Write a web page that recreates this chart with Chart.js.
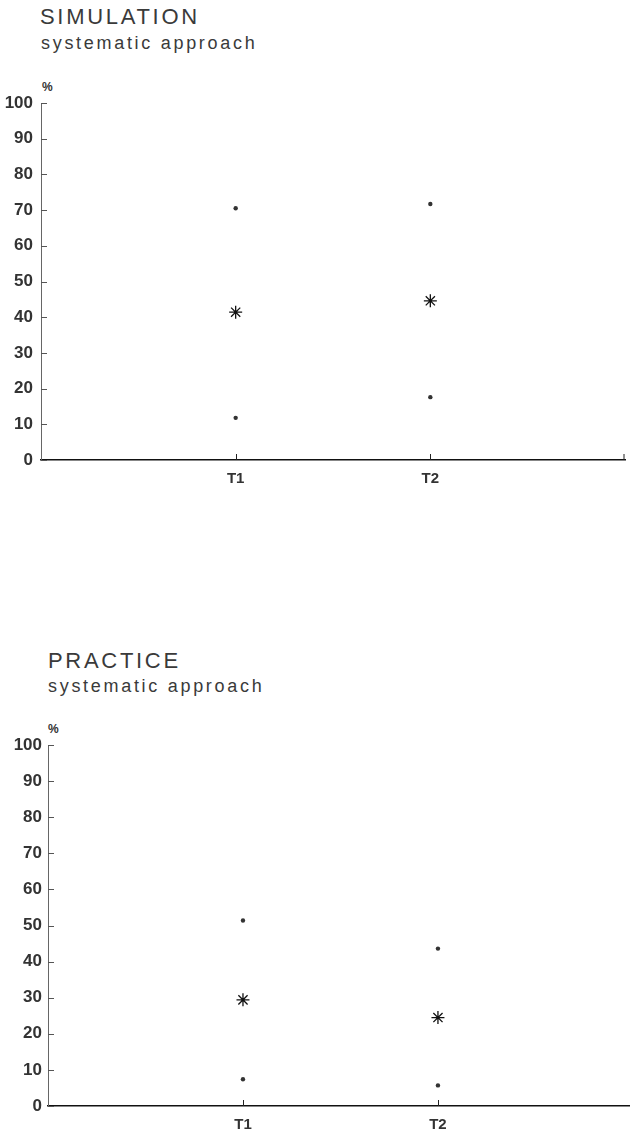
<!DOCTYPE html>
<html>
<head>
<meta charset="utf-8">
<script src="https://cdn.jsdelivr.net/npm/chart.js@4.4.1/dist/chart.umd.min.js"></script>
<style>
    body { margin: 0; background: #fff; }
    #page { position: relative; width: 630px; height: 1135px; overflow: hidden; font-family: "Liberation Sans", Arial, sans-serif; color: #3a3a3a; }
    .title { position: absolute; font-size: 22px; line-height: 1; letter-spacing: 2.7px; white-space: nowrap; }
    .sub { position: absolute; font-size: 18px; line-height: 1; letter-spacing: 2.7px; white-space: nowrap; }
    .pct { position: absolute; font-size: 12px; font-weight: bold; line-height: 1; color: #333; }
    .box { position: absolute; left: 0; width: 630px; }
</style>
</head>
<body>
<div id="page">
    <div class="title" style="left:40px; top:6px;">SIMULATION</div>
    <div class="sub" style="left:41px; top:34px;">systematic approach</div>
    <div class="pct" style="left:42px; top:81px;">%</div>
    <div class="box" style="top:0; height:500px;"><canvas id="simChart"></canvas></div>

    <div class="title" style="left:48px; top:650px;">PRACTICE</div>
    <div class="sub" style="left:48px; top:677px;">systematic approach</div>
    <div class="pct" style="left:48px; top:723px;">%</div>
    <div class="box" style="top:640px; height:495px;"><canvas id="pracChart"></canvas></div>
</div>

<script>
// categories on the x axis
const categories = ['T1', 'T2'];
const yTicks = [0, 10, 20, 30, 40, 50, 60, 70, 80, 90, 100];

// SIMULATION, systematic approach (%)
const simUpper = [70.5, 71.7];
const simMean  = [41.4, 44.6];
const simLower = [11.8, 17.6];

// PRACTICE, systematic approach (%)
const pracUpper = [51.4, 43.6];
const pracMean  = [29.4, 24.5];
const pracLower = [7.4, 5.7];

function toPoints(vals) {
    return categories.map((c, i) => ({ x: i + 1, y: vals[i] }));
}

// tick marks pointing into the plot, like the original
const innerTicks = {
    id: 'innerTicks',
    afterDraw(chart) {
        const ctx = chart.ctx;
        const area = chart.chartArea;
        const ys = chart.scales.y;
        const xs = chart.scales.x;
        ctx.save();
        ctx.strokeStyle = '#555';
        ctx.lineWidth = 1;
        ctx.beginPath();
        ys.ticks.forEach(t => {
            const py = Math.round(ys.getPixelForValue(t.value)) + 0.5;
            ctx.moveTo(area.left, py);
            ctx.lineTo(area.left + 6, py);
        });
        ctx.stroke();
        ctx.strokeStyle = '#222';
        ctx.beginPath();
        xs.ticks.forEach(t => {
            const px = Math.min(Math.round(xs.getPixelForValue(t.value)) + 0.5, area.right - 1);
            ctx.moveTo(px, area.bottom);
            ctx.lineTo(px, area.bottom - 6);
        });
        ctx.stroke();
        ctx.restore();
    }
};

function makeChart(id, upper, mean, lower, opts) {
    const dot = {
        pointRadius: 2.2,
        pointBackgroundColor: '#333',
        pointBorderWidth: 0,
        showLine: false
    };
    return new Chart(document.getElementById(id), {
        type: 'scatter',
        data: {
            datasets: [
                Object.assign({ label: 'upper', data: toPoints(upper) }, dot),
                {
                    label: 'mean',
                    data: toPoints(mean),
                    pointStyle: 'star',
                    pointRadius: 6.5,
                    pointBorderColor: '#111',
                    pointBorderWidth: 1.3,
                    showLine: false
                },
                Object.assign({ label: 'lower', data: toPoints(lower) }, dot)
            ]
        },
        options: {
            responsive: true,
            maintainAspectRatio: false,
            animation: false,
            layout: {
                autoPadding: false,
                padding: { top: opts.top, right: opts.right, left: 0, bottom: 0 }
            },
            plugins: {
                legend: { display: false },
                tooltip: { enabled: false }
            },
            scales: {
                x: {
                    type: 'linear',
                    min: 0,
                    max: opts.xMax,
                    afterBuildTicks: s => { s.ticks = opts.xTicks.map(v => ({ value: v })); },
                    afterFit: s => {
                        s.height = opts.xHeight;
                        s.paddingLeft = 0;
                        s.paddingRight = 0;
                    },
                    // tickLength only used as label offset, grid itself hidden
                    grid: { display: false, drawTicks: true, tickLength: opts.xPad },
                    border: { display: true, color: '#111', width: 1.5 },
                    ticks: {
                        padding: 0,
                        color: '#333',
                        font: { family: 'Liberation Sans', size: 15, weight: 'bold' },
                        callback: v => categories[v - 1] || ''
                    }
                },
                y: {
                    min: 0,
                    max: 100,
                    afterBuildTicks: s => { s.ticks = yTicks.map(v => ({ value: v })); },
                    afterFit: s => { s.width = opts.yWidth; },
                    grid: { display: false, drawTicks: true, tickLength: opts.yPad },
                    border: { display: true, color: '#666', width: 1 },
                    ticks: {
                        padding: 0,
                        color: '#333',
                        font: { family: 'Liberation Sans', size: 17, weight: 'bold' }
                    }
                }
            }
        },
        plugins: [innerTicks]
    });
}

document.addEventListener('DOMContentLoaded', function() {
    makeChart('simChart', simUpper, simMean, simLower,
        { top: 103, right: 5, xMax: 3, xTicks: [1, 2, 3], xHeight: 40, xPad: 10, yWidth: 41, yPad: 8 });
    makeChart('pracChart', pracUpper, pracMean, pracLower,
        { top: 105, right: 0, xMax: 2.985, xTicks: [1, 2], xHeight: 29, xPad: 10, yWidth: 48, yPad: 6 });
});
</script>
</body>
</html>
